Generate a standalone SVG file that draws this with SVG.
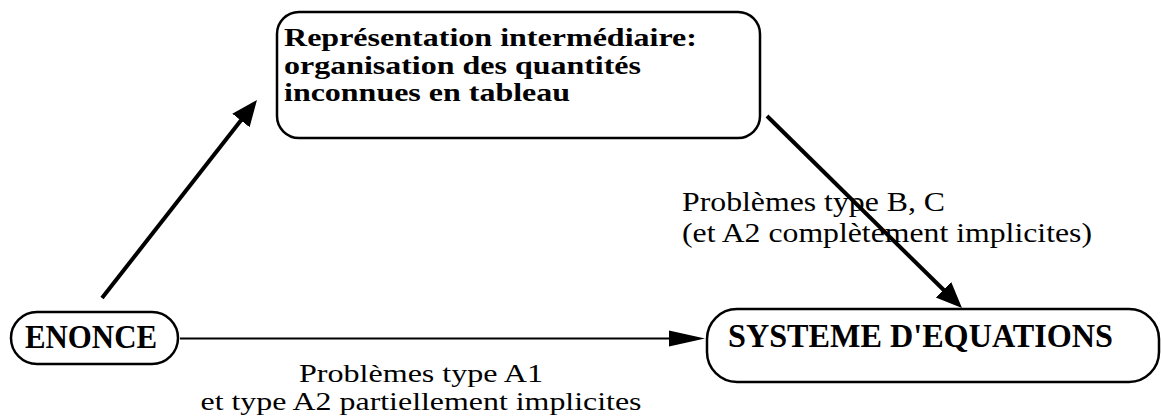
<svg xmlns="http://www.w3.org/2000/svg" width="1161" height="418" viewBox="0 0 1161 418">
  <style>
    .box { fill: #fff; stroke: #000; stroke-width: 2.5; }
    .bold { font-family: "Liberation Serif", "Times New Roman", serif; font-weight: bold; fill: #000; }
    .lbl { font-family: "Liberation Serif", "Times New Roman", serif; font-size: 27px; fill: #000; }
    .small { font-size: 25px; }
    .mid { text-anchor: middle; }
    .thick { stroke: #000; stroke-width: 4; fill: none; }
    .thin { stroke: #000; stroke-width: 2; fill: none; }
  </style>
  <defs>
    <!-- filled triangular heads, sized in user units -->
    <marker id="head" markerUnits="userSpaceOnUse" viewBox="0 -12 26 24" markerWidth="26" markerHeight="24" refX="10" refY="0" orient="auto">
      <path d="M0,-11 L26,0 L0,11 z" fill="#000"/>
    </marker>
    <marker id="headLong" markerUnits="userSpaceOnUse" viewBox="0 -9 36 18" markerWidth="36" markerHeight="18" refX="12" refY="0" orient="auto">
      <path d="M0,-8 L36,0 L0,8 z" fill="#000"/>
    </marker>
  </defs>

  <rect width="1161" height="418" fill="#fff"/>

  <g id="connectors">
    <line class="thick" x1="102" y1="298" x2="247.1" y2="112.6" marker-end="url(#head)"/>
    <line class="thick" x1="767" y1="116" x2="950.6" y2="296.8" marker-end="url(#head)"/>
    <line class="thin" x1="180" y1="338.5" x2="681" y2="338.5" marker-end="url(#headLong)"/>
  </g>

  <g id="representation">
    <rect class="box" x="277" y="12" width="483" height="126" rx="22"/>
    <text class="bold" font-size="26" x="284" y="46" textLength="413" lengthAdjust="spacingAndGlyphs">Représentation intermédiaire:</text>
    <text class="bold" font-size="26" x="284" y="74" textLength="357" lengthAdjust="spacingAndGlyphs">organisation des quantités</text>
    <text class="bold" font-size="26" x="284" y="101" textLength="286" lengthAdjust="spacingAndGlyphs">inconnues en tableau</text>
  </g>

  <g id="enonce">
    <rect class="box" x="11" y="312" width="167" height="52" rx="26"/>
    <text class="bold" font-size="33" x="25" y="348" textLength="132" lengthAdjust="spacingAndGlyphs">ENONCE</text>
  </g>

  <g id="systeme">
    <rect class="box" x="707" y="309" width="452" height="73" rx="30"/>
    <text class="bold" font-size="34" x="728" y="347" textLength="385" lengthAdjust="spacingAndGlyphs">SYSTEME D'EQUATIONS</text>
  </g>

  <g id="labels">
    <text class="lbl" x="682" y="211" textLength="263" lengthAdjust="spacingAndGlyphs">Problèmes type B, C</text>
    <text class="lbl" x="682" y="242" textLength="410" lengthAdjust="spacingAndGlyphs">(et A2 complètement implicites)</text>
    <text class="lbl small mid" x="421" y="382" textLength="244" lengthAdjust="spacingAndGlyphs">Problèmes type A1</text>
    <text class="lbl small mid" x="421" y="410" textLength="441" lengthAdjust="spacingAndGlyphs">et type A2 partiellement implicites</text>
  </g>
</svg>
